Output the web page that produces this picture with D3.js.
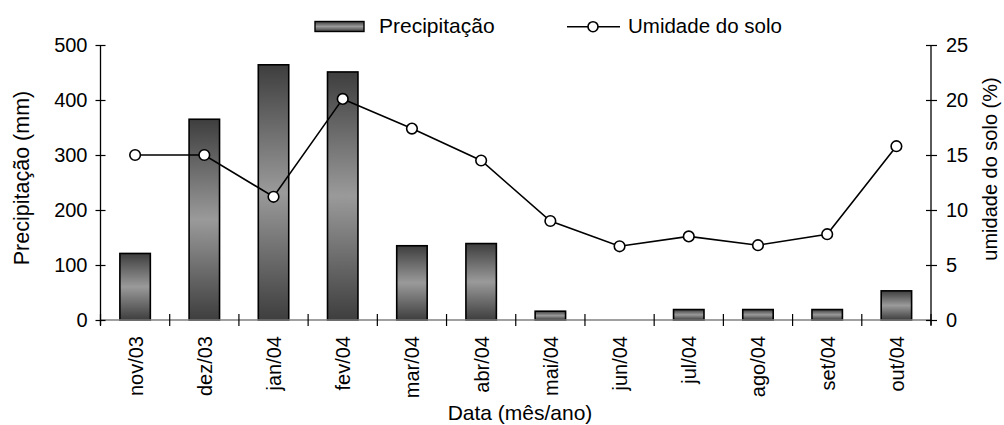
<!DOCTYPE html>
<html>
<head>
<meta charset="utf-8">
<script src="https://cdn.jsdelivr.net/npm/d3@7"></script>
<style>
  html, body { margin: 0; padding: 0; background: #fff; }
  svg text { font-family: "Liberation Sans", Arial, sans-serif; fill: #000; }
</style>
</head>
<body>
<svg id="chart" width="1004" height="425"></svg>
<script>
// Monthly data, Nov 2003 – Oct 2004
const months = ["nov/03", "dez/03", "jan/04", "fev/04", "mar/04", "abr/04",
                "mai/04", "jun/04", "jul/04", "ago/04", "set/04", "out/04"];
const precipitation = [121, 365, 464, 451, 135, 139, 16, 0, 19, 19, 19, 53];   // mm
const soilMoisture  = [15.0, 15.0, 11.2, 20.1, 17.4, 14.5, 9.0, 6.7, 7.6, 6.8, 7.8, 15.8]; // %
const precipTicks   = [0, 100, 200, 300, 400, 500];
const moistureTicks = [0, 5, 10, 15, 20, 25];

const svg = d3.select("#chart");
const plotL = 100.5, plotR = 931, plotT = 45, plotB = 320;

const x = d3.scaleBand().domain(months).range([plotL, plotR]).paddingInner(0).paddingOuter(0);
const yL = d3.scaleLinear().domain([0, 500]).range([plotB, plotT]);
const yR = d3.scaleLinear().domain([0, 25]).range([plotB, plotT]);

// Vertical gradient for the bars: dark at both ends, light in the middle
const defs = svg.append("defs");
const grad = defs.append("linearGradient")
  .attr("id", "barGrad").attr("x1", 0).attr("y1", 0).attr("x2", 0).attr("y2", 1);
grad.append("stop").attr("offset", "0%").attr("stop-color", "#3e3e3e");
grad.append("stop").attr("offset", "50%").attr("stop-color", "#9a9a9a");
grad.append("stop").attr("offset", "100%").attr("stop-color", "#3e3e3e");

const barW = x.bandwidth() * 0.44;

// Precipitation bars
svg.append("g").selectAll("rect")
  .data(months.map((m, i) => ({ m, v: precipitation[i] })).filter(d => d.v > 0))
  .join("rect")
  .attr("x", d => x(d.m) + (x.bandwidth() - barW) / 2)
  .attr("y", d => yL(d.v))
  .attr("width", barW)
  .attr("height", d => yL(0) - yL(d.v))
  .attr("fill", "url(#barGrad)")
  .attr("stroke", "#000")
  .attr("stroke-width", 1.6);

// X axis baseline and category boundary ticks
const xg = svg.append("g");
xg.append("line")
  .attr("x1", plotL).attr("x2", plotR).attr("y1", plotB).attr("y2", plotB)
  .attr("stroke", "#808080").attr("stroke-width", 1.5);
const bounds = months.map(m => x(m)).concat([plotR]);
xg.selectAll("line.b").data(bounds).join("line").attr("class", "b")
  .attr("x1", d => d).attr("x2", d => d)
  .attr("y1", plotB - 6).attr("y2", plotB + 6)
  .attr("stroke", "#000").attr("stroke-width", 1.2);
xg.selectAll("text").data(months).join("text")
  .attr("transform", d => `translate(${x(d) + x.bandwidth() / 2 + 7.5},336) rotate(-90)`)
  .attr("text-anchor", "end")
  .attr("font-size", 20)
  .text(d => d);

// Left axis: precipitation
const gL = svg.append("g").attr("transform", `translate(${plotL},0)`)
  .call(d3.axisLeft(yL).tickValues(precipTicks).tickSize(5).tickPadding(8));
gL.selectAll(".tick line").attr("x2", -5).attr("x1", 5).attr("stroke", "#000").attr("stroke-width", 1.2);
gL.select(".domain").attr("d", `M0,${plotT}V${plotB + 5}`).attr("stroke", "#000").attr("stroke-width", 1.3);
gL.selectAll(".tick text").attr("font-size", 20).attr("font-family", "Liberation Sans, Arial, sans-serif");

// Right axis: soil moisture
const gR = svg.append("g").attr("transform", `translate(${plotR},0)`)
  .call(d3.axisRight(yR).tickValues(moistureTicks).tickSize(5).tickPadding(10));
gR.selectAll(".tick line").attr("x1", -5).attr("x2", 6).attr("stroke", "#000").attr("stroke-width", 1.2);
gR.select(".domain").attr("d", `M0,${plotT}V${plotB + 5}`).attr("stroke", "#000").attr("stroke-width", 1.3);
gR.selectAll(".tick text").attr("font-size", 20).attr("font-family", "Liberation Sans, Arial, sans-serif");

// Soil moisture line with open circle markers
const cx = d => x(d) + x.bandwidth() / 2;
const pts = months.map((m, i) => [cx(m), yR(soilMoisture[i])]);
svg.append("path")
  .attr("d", d3.line()(pts))
  .attr("fill", "none").attr("stroke", "#000").attr("stroke-width", 1.6);
svg.append("g").selectAll("circle").data(pts).join("circle")
  .attr("cx", d => d[0]).attr("cy", d => d[1]).attr("r", 5.3)
  .attr("fill", "#fff").attr("stroke", "#000").attr("stroke-width", 1.6);

// Axis titles
svg.append("text")
  .attr("transform", "translate(29,178) rotate(-90)")
  .attr("text-anchor", "middle").attr("font-size", 21.5)
  .text("Precipitação (mm)");
svg.append("text")
  .attr("transform", "translate(997,169) rotate(-90)")
  .attr("text-anchor", "middle").attr("font-size", 20)
  .text("umidade do solo (%)");
svg.append("text")
  .attr("x", 520).attr("y", 420)
  .attr("text-anchor", "middle").attr("font-size", 21)
  .text("Data (mês/ano)");

// Legend
const lg = svg.append("g");
lg.append("rect").attr("x", 315).attr("y", 21.5).attr("width", 49).attr("height", 10)
  .attr("fill", "url(#barGrad)").attr("stroke", "#000").attr("stroke-width", 1.4);
lg.append("text").attr("x", 379).attr("y", 33).attr("font-size", 21).text("Precipitação");
lg.append("line").attr("x1", 567).attr("x2", 620).attr("y1", 26.7).attr("y2", 26.7)
  .attr("stroke", "#000").attr("stroke-width", 1.6);
lg.append("circle").attr("cx", 593).attr("cy", 26.7).attr("r", 5)
  .attr("fill", "#fff").attr("stroke", "#000").attr("stroke-width", 1.6);
lg.append("text").attr("x", 628).attr("y", 33).attr("font-size", 20.5).text("Umidade do solo");
</script>
</body>
</html>
